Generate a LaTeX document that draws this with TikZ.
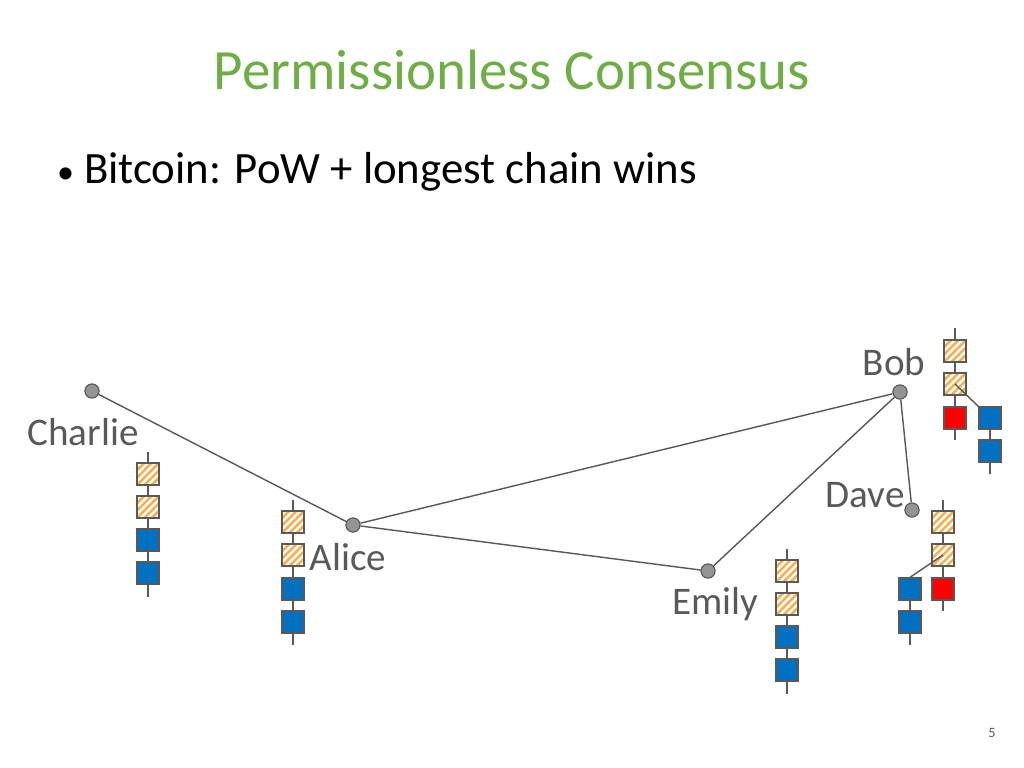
\documentclass[tikz,border=0pt]{standalone}
\usepackage{fontspec}
\setmainfont{Carlito}
\usetikzlibrary{calc}
\definecolor{tgreen}{HTML}{70AD47}
\definecolor{tgray}{HTML}{595959}
\definecolor{bblue}{HTML}{0070C0}
\definecolor{hatch}{HTML}{F4B153}
\begin{document}
\begin{tikzpicture}[x=0.703pt,y=-0.703pt,
  peer/.style={circle,draw=tgray,fill=gray!80!black!70,line width=0.8pt,minimum size=10pt,inner sep=0pt},
  lbl/.style={text=tgray,font=\fontsize{27.5}{32}\selectfont,inner sep=0pt},
  link/.style={draw=tgray,line width=1pt},
  blk/.style={draw=tgray,line width=0.9pt,minimum size=15.5pt,inner sep=0pt},
  hblk/.style={blk,fill=white,path picture={\foreach \i in {-3,...,3}{\draw[hatch,line width=1.8pt] ($(path picture bounding box.south west)+(\i*5.2pt,0)$) -- ++(16pt,16pt);}}},
  bblk/.style={blk,fill=bblue},
  rblk/.style={blk,fill=red},
  chain/.style={draw=tgray,line width=1pt}]
\path[use as bounding box] (0,0) rectangle (1024,768);
\node[text=tgreen,font=\fontsize{40}{44}\selectfont] (title) at (512,70) {Permissionless Consensus};
\node[anchor=west,text=black,font=\fontsize{31.5}{36}\selectfont] (bullet) at (52,172) {{\fontsize{24}{28}\selectfont\textbullet}\ Bitcoin: PoW + longest chain wins};
\node[font=\fontsize{10}{12}\selectfont,text=tgray] (pg) at (992,733) {5};
% peers
\node[peer] (charlie) at (92,391) {};
\node[peer] (alice) at (353,525) {};
\node[peer] (emily) at (708,571) {};
\node[peer] (bob) at (900,392) {};
\node[peer] (dave) at (912,510) {};
\draw[link] (charlie) -- (alice);
\draw[link] (alice) -- (bob);
\draw[link] (alice) -- (emily);
\draw[link] (emily) -- (bob);
\draw[link] (bob) -- (dave);
\node[lbl] (lc) at (83,432) {Charlie};
\node[lbl] (la) at (348,557) {Alice};
\node[lbl] (le) at (715,604) {Emily};
\node[lbl] (lb) at (894,362) {Bob};
\node[lbl] (ld) at (865,495) {Dave};
% chains
\newcommand{\mychain}[6]{% name x top bottom list
  \coordinate (#1t) at (#2,#3); \coordinate (#1b) at (#2,#4);
  \draw[chain] (#1t) -- (#1b);
  \foreach \y/\s [count=\k] in {#5} {\node[\s] (#1\k) at (#2,\y) {};}
}
\mychain{c}{148}{452}{597}{474/hblk,507/hblk,540/bblk,573/bblk}{}
\mychain{a}{293}{500}{645}{522/hblk,555/hblk,589/bblk,622/bblk}{}
\mychain{e}{787}{549}{694}{571/hblk,604/hblk,637/bblk,670/bblk}{}
% Bob
\coordinate (bfb) at (990,474);
\draw[chain] (990,418) -- (bfb);
\mychain{b}{955}{328}{440}{351/hblk,384/hblk,418/rblk}{}
\node[bblk] (bf1) at (990,418) {};
\node[bblk] (bf2) at (990,451) {};
\draw[chain] (b2.center) -- (bf1.north west);
% Dave
\coordinate (dfb) at (910,645);
\draw[chain] (910,589) -- (dfb);
\mychain{d}{943}{500}{611}{522/hblk,555/hblk,589/rblk}{}
\node[bblk] (df1) at (910,589) {};
\node[bblk] (df2) at (910,622) {};
\draw[chain] (d2.center) -- (df1.north);
\end{tikzpicture}
\end{document}
